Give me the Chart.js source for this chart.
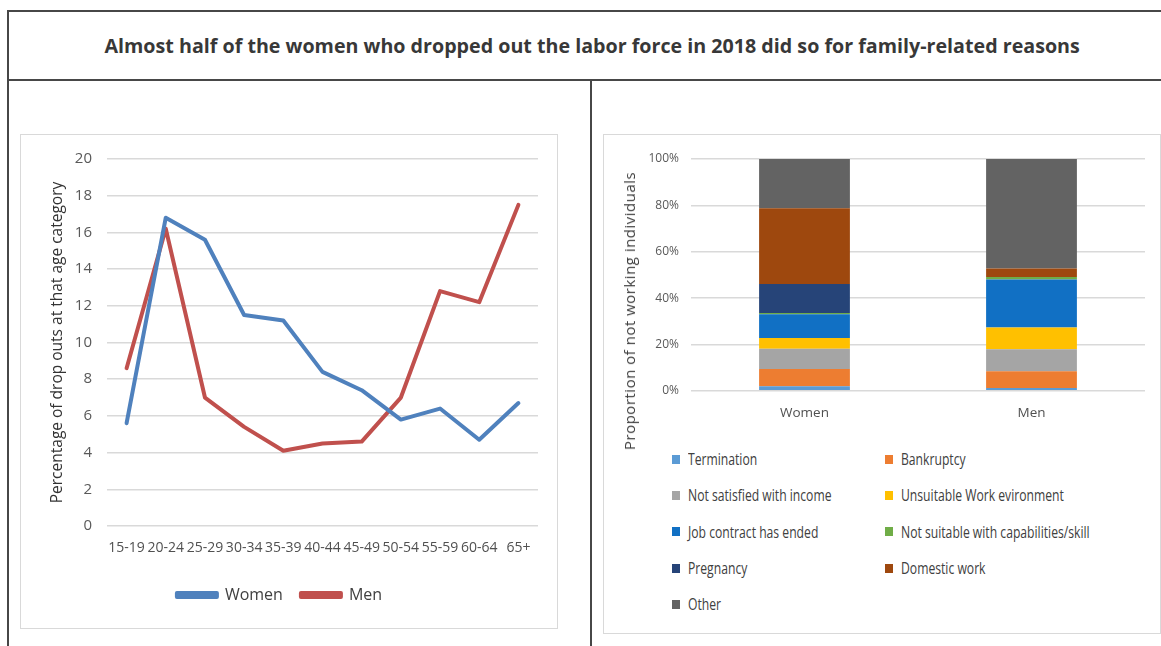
<!DOCTYPE html>
<html>
<head>
<meta charset="utf-8">
<script src="https://cdn.jsdelivr.net/npm/chart.js@4.4.1/dist/chart.umd.min.js"></script>
<style>
  body { margin: 0; background: #fff; width: 1161px; height: 646px; overflow: hidden; position: relative; }
  .frame { position: absolute; left: 7px; top: 10px; width: 1160px; height: 640px;
           border-top: 2px solid #474747; border-left: 2px solid #474747; }
  .hline { position: absolute; left: 7px; top: 79px; width: 1160px; height: 2px; background: #474747; }
  .vline { position: absolute; left: 590px; top: 80px; width: 2px; height: 570px; background: #474747; }
  .title { position: absolute; left: 0; top: 33px; width: 1184px; text-align: center; white-space: nowrap;
           font: bold 19px "Open Sans", sans-serif; color: #383838; }
  .title span { display: inline-block; transform-origin: center; }
  .box { position: absolute; border: 1px solid #d9d9d9; background: #fff; }
  #leftBox { left: 20px; top: 134px; width: 536px; height: 493px; }
  #rightBox { left: 603px; top: 134px; width: 556px; height: 498px; }
  canvas { position: absolute; left: 0; top: 0; }
  .ytitle { position: absolute; left: 629px; top: 311px; transform: translate(-50%, -50%) rotate(-90deg);
            white-space: nowrap; font: 15px "Open Sans", sans-serif; color: #404040; letter-spacing: 0.5px; }
  #reasonLegend { position: absolute; left: 672px; top: 441px; display: grid;
                  grid-template-columns: 213px 260px; grid-auto-rows: 36.3px;
                  font: 16px "Open Sans", sans-serif; color: #404040; }
  #reasonLegend div { display: flex; align-items: center; white-space: nowrap; }
  #reasonLegend i { display: inline-block; flex-shrink: 0; width: 8px; height: 9px; margin-right: 8px; }
  #reasonLegend span { display: inline-block; transform: scaleX(0.76); transform-origin: left center; }
</style>
</head>
<body>
<div class="frame"></div>
<div class="hline"></div>
<div class="vline"></div>
<div class="title"><span id="headline">Almost half of the women who dropped out the labor force in 2018 did so for family-related reasons</span></div>

<div class="box" id="leftBox"><canvas id="dropChart" width="536" height="493"></canvas></div>
<div class="box" id="rightBox"><canvas id="reasonChart" width="556" height="300"></canvas></div>
<div class="ytitle">Proportion of not working individuals</div>
<div id="reasonLegend"></div>

<script>
// age groups and drop-out share (%) per group
var ageGroups = ['15-19', '20-24', '25-29', '30-34', '35-39', '40-44', '45-49', '50-54', '55-59', '60-64', '65+'];
var womenDrop = [5.6, 16.8, 15.6, 11.5, 11.2, 8.4, 7.4, 5.8, 6.4, 4.7, 6.7];
var menDrop = [8.6, 16.2, 7.0, 5.4, 4.1, 4.5, 4.6, 7.0, 12.8, 12.2, 17.5];

// reasons for not working, share of each group (%)
var groups = ['Women', 'Men'];
var reasons = ['Termination', 'Bankruptcy', 'Not satisfied with income', 'Unsuitable Work evironment',
  'Job contract has ended', 'Not suitable with capabilities/skill', 'Pregnancy', 'Domestic work', 'Other'];
var womenReasons = [2.0, 7.4, 8.7, 4.7, 10.2, 0.6, 12.5, 32.6, 21.3];
var menReasons = [1.2, 7.2, 9.5, 9.4, 20.7, 1.1, 0, 3.7, 47.2];
var reasonColors = ['#5B9BD5', '#ED7D31', '#A5A5A5', '#FFC000', '#1170C4', '#70AD47', '#264478', '#9E480E', '#636363'];

var sans = '"Open Sans", sans-serif';

// squeeze headline to the panel width
var hl = document.getElementById('headline');
hl.style.transform = 'scaleX(' + (975 / hl.offsetWidth) + ')';

// Drop outs by age
new Chart(document.getElementById('dropChart'), {
  type: 'line',
  data: {
    labels: ageGroups,
    datasets: [
      { label: 'Women', data: womenDrop, borderColor: '#4F81BD', backgroundColor: '#4F81BD' },
      { label: 'Men', data: menDrop, borderColor: '#C0504D', backgroundColor: '#C0504D' }
    ]
  },
  options: {
    responsive: false,
    animation: false,
    layout: { padding: { top: 24, right: 19, left: 0, bottom: 15 } },
    elements: {
      line: { borderWidth: 4, tension: 0, borderJoinStyle: 'round', borderCapStyle: 'round' },
      point: { radius: 0 }
    },
    plugins: {
      tooltip: { enabled: false },
      legend: {
        position: 'bottom',
        labels: { boxWidth: 40, boxHeight: 4, padding: 18, color: '#404040', font: { family: sans, size: 16 } }
      }
    },
    scales: {
      x: {
        offset: true,
        grid: { display: false, drawTicks: false },
        border: { display: false },
        ticks: { autoSkip: false, maxRotation: 0, padding: 14, color: '#505050', font: { family: sans, size: 14 } },
        afterFit: function (s) { s.height = 43; }
      },
      y: {
        min: 0, max: 20,
        grid: { color: '#d9d9d9', lineWidth: 1.5, drawTicks: false },
        border: { display: false },
        ticks: { stepSize: 2, padding: 15, color: '#595959', font: { family: sans, size: 15 } },
        title: {
          display: true, text: 'Percentage of drop outs at that age category',
          color: '#333333', font: { family: sans, size: 15.5 },
          padding: { top: 27, bottom: 0 }
        },
        afterFit: function (s) { s.width = 86; }
      }
    }
  }
});

// Reasons for not working, stacked to 100%
new Chart(document.getElementById('reasonChart'), {
  type: 'bar',
  data: {
    labels: groups,
    datasets: reasons.map(function (r, i) {
      return { label: r, data: [womenReasons[i], menReasons[i]], backgroundColor: reasonColors[i] };
    })
  },
  options: {
    responsive: false,
    animation: false,
    layout: { padding: { top: 24, right: 15, left: 0, bottom: 0 } },
    datasets: { bar: { barPercentage: 1, categoryPercentage: 0.4 } },
    plugins: { legend: { display: false }, tooltip: { enabled: false } },
    scales: {
      x: {
        stacked: true,
        grid: { display: false, drawTicks: false },
        border: { display: false },
        ticks: { padding: 14, color: '#505050', font: { family: sans, size: 13.5 } }
      },
      y: {
        stacked: true, min: 0, max: 100,
        grid: { color: '#d9d9d9', lineWidth: 1.5, drawTicks: false },
        border: { display: false },
        ticks: { stepSize: 20, padding: 12, color: '#595959', font: { family: sans, size: 12 },
                 callback: function (v) { return v + '%'; } },
        afterFit: function (s) { s.width = 87; }
      }
    }
  }
});

// two-column legend for the reasons
var lg = document.getElementById('reasonLegend');
reasons.forEach(function (r, i) {
  var d = document.createElement('div');
  d.innerHTML = '<i style="background:' + reasonColors[i] + '"></i><span>' + r + '</span>';
  lg.appendChild(d);
});
</script>
</body>
</html>
